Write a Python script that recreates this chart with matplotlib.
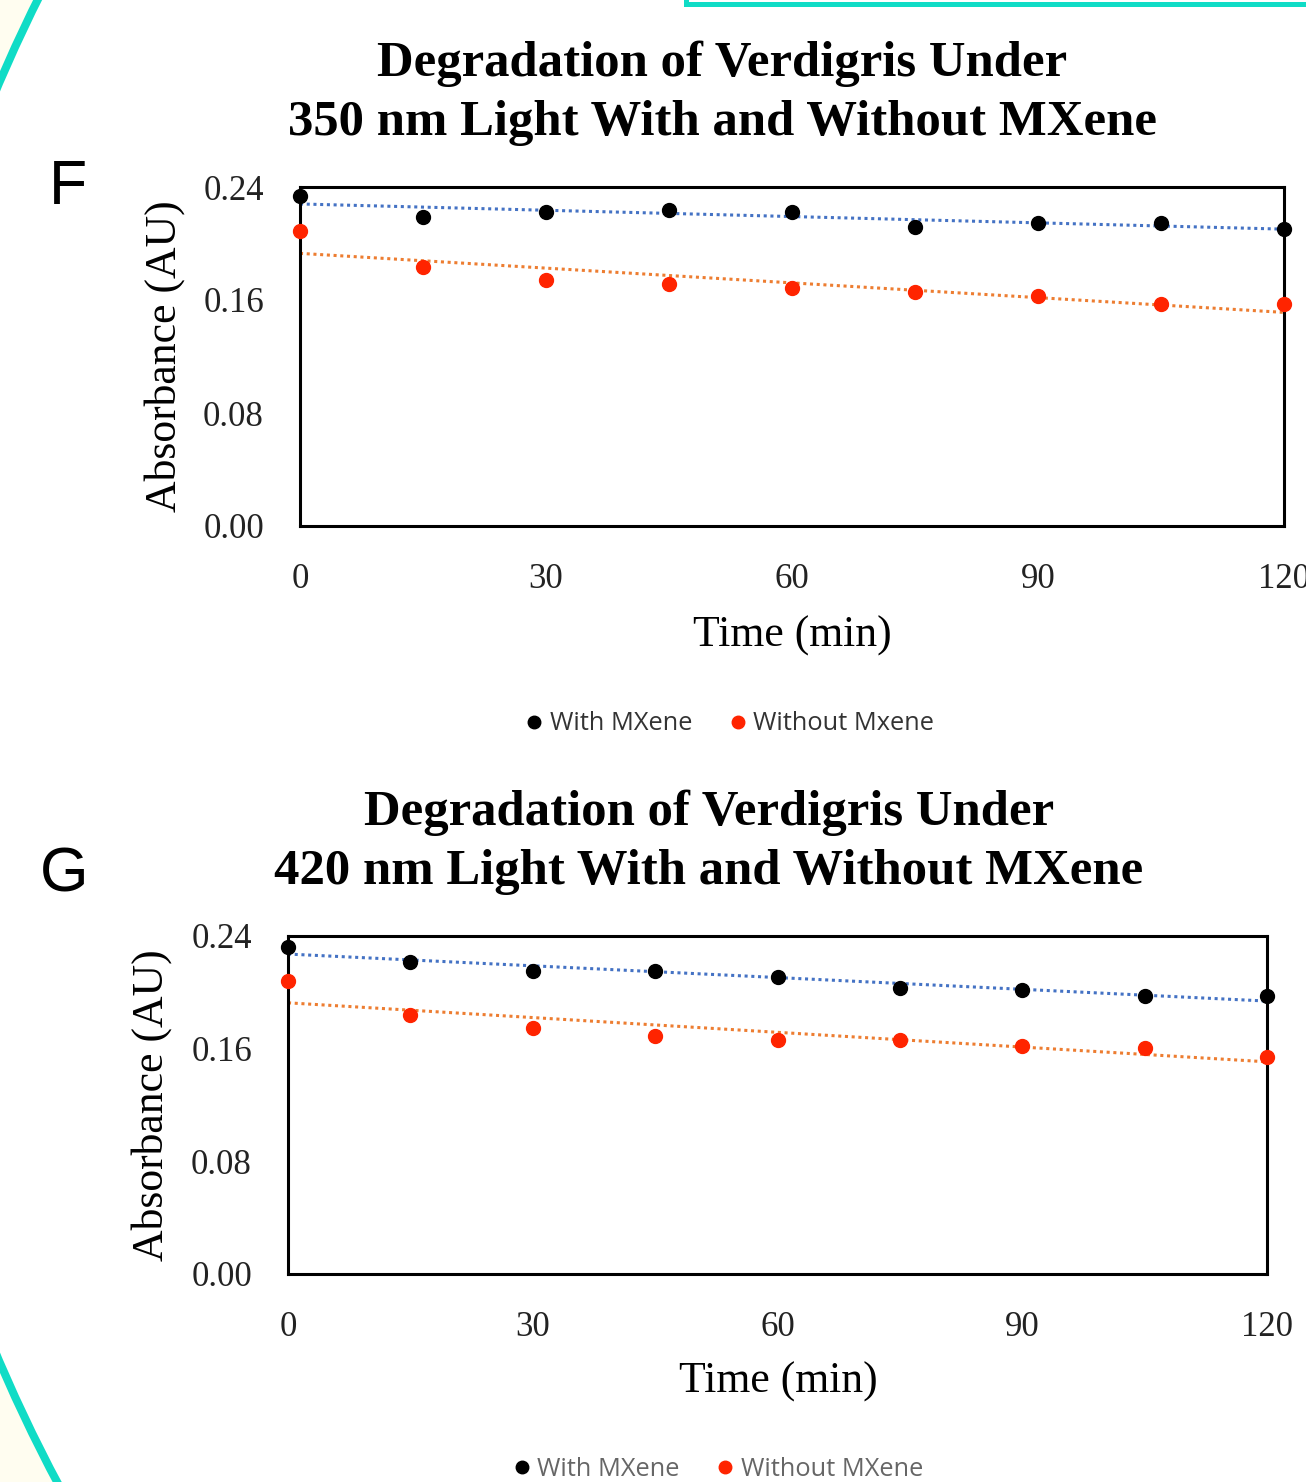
import numpy as np
import matplotlib
matplotlib.use("Agg")
import matplotlib.pyplot as plt
from matplotlib.patches import Circle, Rectangle
from matplotlib.lines import Line2D

# Time points (min)
time_min = [0, 15, 30, 45, 60, 75, 90, 105, 120]

# Panel F: 350 nm light
f_with = [0.2336, 0.2188, 0.2223, 0.2237, 0.2223, 0.2117, 0.2145, 0.2145, 0.2103]
f_without = [0.2088, 0.1834, 0.1742, 0.1713, 0.1685, 0.1657, 0.1628, 0.1572, 0.1572]

# Panel G: 420 nm light
g_with = [0.2322, 0.2215, 0.2151, 0.2151, 0.2109, 0.2031, 0.2017, 0.1974, 0.1974]
g_without = [0.2080, 0.1839, 0.1747, 0.1690, 0.1662, 0.1662, 0.1619, 0.1605, 0.1541]

x_ticks = [0, 30, 60, 90, 120]
y_ticks = [0.00, 0.08, 0.16, 0.24]

W, H = 1306, 1482
fig = plt.figure(figsize=(W / 100, H / 100), dpi=100, facecolor="white")

# background decoration (pixel coordinates)
bg = fig.add_axes([0, 0, 1, 1], zorder=-5)
bg.set_xlim(0, W)
bg.set_ylim(H, 0)
bg.axis("off")
bg.add_patch(Rectangle((0, 0), W, H, facecolor="#fffdf0", edgecolor="none"))
bg.add_patch(Circle((1490, 722), 1622, facecolor="white", edgecolor="#10dcc6", lw=5.8))
bg.add_patch(Rectangle((686, -60), 700, 64, facecolor="none", edgecolor="#10dcc6", lw=3.6))

serif = "Liberation Serif"
trend_blue = "#4472c4"
trend_orange = "#ed7d31"
red = "#ff2400"


def panel(rect, with_vals, without_vals, title_lines, title_x, title_y, legend_labels,
          legend_x, legend_y, legend_color, letter, letter_pos, xlabel_xy, ylabel_xy):
    ax = fig.add_axes(rect)
    t = np.array(time_min)
    for vals, mc, lc in [(with_vals, "black", trend_blue), (without_vals, red, trend_orange)]:
        k, b = np.polyfit(t, vals, 1)
        tt = np.array([0, 120])
        ax.plot(tt, k * tt + b, color=lc, ls=(0, (1, 1.2)), lw=2.2, zorder=2)
        ax.plot(t, vals, "o", color=mc, ms=10, mec=mc, clip_on=False, zorder=4)
    ax.set_xlim(0, 120)
    ax.set_ylim(0, 0.24)
    ax.set_xticks(x_ticks)
    ax.set_yticks(y_ticks)
    ax.set_xticklabels([str(v) for v in x_ticks], fontfamily=serif, fontsize=25)
    ax.set_yticklabels(["%.2f" % v for v in y_ticks], fontfamily=serif, fontsize=25)
    ax.tick_params(length=0, pad=26, colors="#222222")
    ax.tick_params(axis="x", pad=27)
    for s in ax.spines.values():
        s.set_linewidth(2.2)
        s.set_color("black")
    ax.set_facecolor("none")

    for line, ty in zip(title_lines, title_y):
        fig.text(title_x / W, 1 - ty / H, line, ha="center", va="baseline",
                 fontfamily=serif, fontweight="bold", fontsize=36.5)
    fig.text(xlabel_xy[0] / W, 1 - xlabel_xy[1] / H, "Time (min)", ha="center", va="center",
             fontfamily=serif, fontsize=31.5)
    fig.text(ylabel_xy[0] / W, 1 - ylabel_xy[1] / H, "Absorbance (AU)", ha="center", va="center",
             rotation=90, fontfamily=serif, fontsize=31.5)
    fig.text(letter_pos[0] / W, 1 - letter_pos[1] / H, letter, ha="center", va="center",
             fontfamily="Liberation Sans", fontsize=45)

    handles = [Line2D([], [], ls="none", marker="o", color="black", ms=9),
               Line2D([], [], ls="none", marker="o", color=red, ms=9)]
    fig.legend(handles, legend_labels, loc="center", bbox_to_anchor=(legend_x / W, 1 - legend_y / H),
               ncol=2, frameon=False, prop={"family": "Open Sans", "size": 18.3},
               labelcolor=legend_color, handletextpad=0.1, columnspacing=1.3, handlelength=1.0)
    return ax


panel([300 / W, 1 - 526 / H, 984 / W, 339 / H], f_with, f_without,
      ["Degradation of Verdigris Under", "350 nm Light With and Without MXene"],
      722, (76, 135), ["With MXene", "Without Mxene"], 728, 724, "#333333",
      "F", (68, 187), (792, 636), (165, 356))

panel([288 / W, 1 - 1274 / H, 979 / W, 338 / H], g_with, g_without,
      ["Degradation of Verdigris Under", "420 nm Light With and Without MXene"],
      709, (825, 884), ["With MXene", "Without MXene"], 716, 1469, "#666666",
      "G", (64, 875), (778, 1382), (152, 1105))

fig.savefig("out.png", dpi=100, facecolor=fig.get_facecolor())
